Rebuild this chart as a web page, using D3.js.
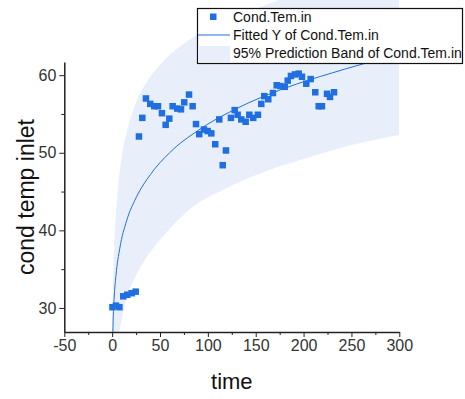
<!doctype html>
<html>
<head>
<meta charset="utf-8">
<title>cond temp inlet</title>
<script src="https://cdnjs.cloudflare.com/ajax/libs/d3/7.8.5/d3.min.js"></script>
<style>
  html, body { margin: 0; padding: 0; background: #fff; }
  svg { display: block; font-family: Arial, "Liberation Sans", sans-serif; }
</style>
</head>
<body>
<div id="chart"></div>
<script>
// measured points (time, cond temp inlet)
var times = [0.3, 4, 7.6, 11.6, 15.8, 20.4, 24.6, 28.0, 31.5, 35.3, 39.8, 44.0, 47.9, 52.0, 55.9,
  59.7, 63.2, 68.0, 71.9, 75.3, 80.3, 84.1, 87.6, 91.0, 95.9, 99.8, 103.6, 107.7, 111.9, 115.5,
  118.9, 124.1, 128.0, 131.1, 134.9, 139.5, 143.3, 147.4, 152.3, 155.8, 158.9, 163.1, 168.0,
  171.9, 175.7, 180.3, 183.4, 186.8, 191.0, 194.9, 198.3, 202.8, 207.4, 212.2, 215.8, 219.2,
  224.5, 227.6, 231.8];
var temps = [30.1, 30.3, 30.1, 31.5, 31.7, 31.9, 32.1, 52.1, 54.5, 57.0, 56.3, 56.0, 56.0, 55.1, 53.6,
  54.4, 56.0, 55.7, 55.6, 56.5, 57.5, 56.0, 53.7, 52.4, 53.0, 52.8, 52.5, 51.1, 54.3, 48.4,
  50.3, 54.5, 55.5, 54.9, 54.3, 54.0, 54.9, 54.5, 54.9, 56.3, 57.3, 56.9, 57.7,
  58.7, 58.6, 58.5, 59.3, 59.9, 60.1, 60.2, 59.8, 58.9, 59.5, 57.8, 56.0, 56.0,
  57.6, 57.2, 57.8];

// fitted curve
var fitX = [0.5, 1, 2, 4, 8, 15, 25, 40, 60, 90, 130, 180, 230, 280, 300];
var fitY = [25.6, 28.2, 31.1, 34.2, 37.7, 41.2, 44.2, 47.2, 50.0, 52.9, 55.7, 58.3, 60.3, 62.0, 62.5];

// 95% prediction band
var bandX = [0, 0.5, 1, 2, 5, 10, 15, 25, 40, 55, 80, 120, 160, 200, 250, 300];
var bandUpper = [27, 31, 33.5, 37.5, 43.9, 49.5, 52.5, 56.5, 59.8, 62.0, 64.5, 67, 69, 71, 73, 75];
var bandLower = [10, 14, 17, 20, 24.5, 28.5, 31.2, 34.2, 37.2, 39.5, 42.6, 45.5, 47.6, 49.2, 51, 52.3];

var xTicks = [-50, 0, 50, 100, 150, 200, 250, 300];
var yTicks = [30, 40, 50, 60];
var legendLabels = ["Cond.Tem.in", "Fitted Y of Cond.Tem.in", "95% Prediction Band of Cond.Tem.in"];

var blue = "#1f6fe0";
var bandFill = "#e8effb";

var W = 465, H = 399;
var svg = d3.select("#chart").append("svg")
  .attr("width", W).attr("height", H);

var x = d3.scaleLinear().domain([-50, 300]).range([64.3, 399.3]);
var y = d3.scaleLinear().domain([26.9, 61.7]).range([332, 62]);

svg.append("clipPath").attr("id", "plot")
  .append("rect")
  .attr("x", x(-50)).attr("y", 0)
  .attr("width", x(300) - x(-50)).attr("height", y(26.9));

var plot = svg.append("g").attr("clip-path", "url(#plot)");

// band
var band = bandX.map(function (d, i) { return [d, bandLower[i], bandUpper[i]]; });
plot.append("path")
  .datum(band)
  .attr("fill", bandFill)
  .attr("d", d3.area()
    .x(function (d) { return x(d[0]); })
    .y0(function (d) { return y(d[1]); })
    .y1(function (d) { return y(d[2]); })
    .curve(d3.curveMonotoneX));

// fit line
var fit = fitX.map(function (d, i) { return [d, fitY[i]]; });
plot.append("path")
  .datum(fit)
  .attr("fill", "none")
  .attr("stroke", blue)
  .attr("stroke-width", 1)
  .attr("d", d3.line()
    .x(function (d) { return x(d[0]); })
    .y(function (d) { return y(d[1]); })
    .curve(d3.curveMonotoneX));

// points
var s = 6.5;
plot.selectAll("rect.pt")
  .data(times)
  .enter().append("rect")
  .attr("class", "pt")
  .attr("x", function (d) { return x(d) - s / 2; })
  .attr("y", function (d, i) { return y(temps[i]) - s / 2; })
  .attr("width", s).attr("height", s)
  .attr("fill", blue);

// axes (plain hyphen for negatives, like the original)
var fmt = function (d) { return String(d); };
var xAxis = d3.axisBottom(x).tickValues(xTicks).tickSize(5).tickSizeOuter(0).tickPadding(3).tickFormat(fmt);
var gx = svg.append("g").attr("transform", "translate(0," + y(26.9) + ")").call(xAxis);
gx.selectAll("text").attr("font-size", 16).attr("fill", "#333").attr("font-family", "Arial, 'Liberation Sans', sans-serif");
var xMinor = d3.axisBottom(x).tickValues([-25, 25, 75, 125, 175, 225, 275]).tickSize(3).tickSizeOuter(0).tickFormat("");
svg.append("g").attr("transform", "translate(0," + y(26.9) + ")").call(xMinor).select(".domain").remove();

var yAxis = d3.axisLeft(y).tickValues(yTicks).tickSize(5).tickSizeOuter(0).tickPadding(3).tickFormat(fmt);
var gy = svg.append("g").attr("transform", "translate(" + x(-50) + ",0)").call(yAxis);
gy.selectAll("text").attr("font-size", 16).attr("fill", "#333").attr("font-family", "Arial, 'Liberation Sans', sans-serif");
var yMinor = d3.axisLeft(y).tickValues([35, 45, 55]).tickSize(3).tickSizeOuter(0).tickFormat("");
svg.append("g").attr("transform", "translate(" + x(-50) + ",0)").call(yMinor).select(".domain").remove();

svg.selectAll(".domain").attr("stroke", "#222").attr("stroke-width", 1.5);
svg.selectAll(".tick line").attr("stroke", "#222").attr("stroke-width", 1);

// axis titles
svg.append("text")
  .attr("x", (x(-50) + x(300)) / 2).attr("y", 389)
  .attr("text-anchor", "middle")
  .attr("font-size", 22).attr("fill", "#111")
  .text("time");
svg.append("text")
  .attr("transform", "translate(34," + (y(26.9) + 62) / 2 + ") rotate(-90)")
  .attr("text-anchor", "middle")
  .attr("font-size", 23).attr("fill", "#111")
  .text("cond temp inlet");

// legend
var lg = svg.append("g");
lg.append("rect")
  .attr("x", 197.5).attr("y", 8.5).attr("width", 265).attr("height", 55)
  .attr("fill", "#fff").attr("stroke", "#111").attr("stroke-width", 1.2);
lg.append("rect").attr("x", 210).attr("y", 13.5).attr("width", 6.5).attr("height", 6.5).attr("fill", blue);
lg.append("line").attr("x1", 198).attr("x2", 230).attr("y1", 35).attr("y2", 35)
  .attr("stroke", blue).attr("stroke-width", 1);
lg.append("rect").attr("x", 198).attr("y", 46).attr("width", 32).attr("height", 16).attr("fill", bandFill);
lg.selectAll("text.lab")
  .data(legendLabels)
  .enter().append("text")
  .attr("class", "lab")
  .attr("x", 233)
  .attr("y", function (d, i) { return 21.5 + i * 18.2; })
  .attr("font-size", 14).attr("fill", "#111")
  .text(function (d) { return d; });
</script>
</body>
</html>
